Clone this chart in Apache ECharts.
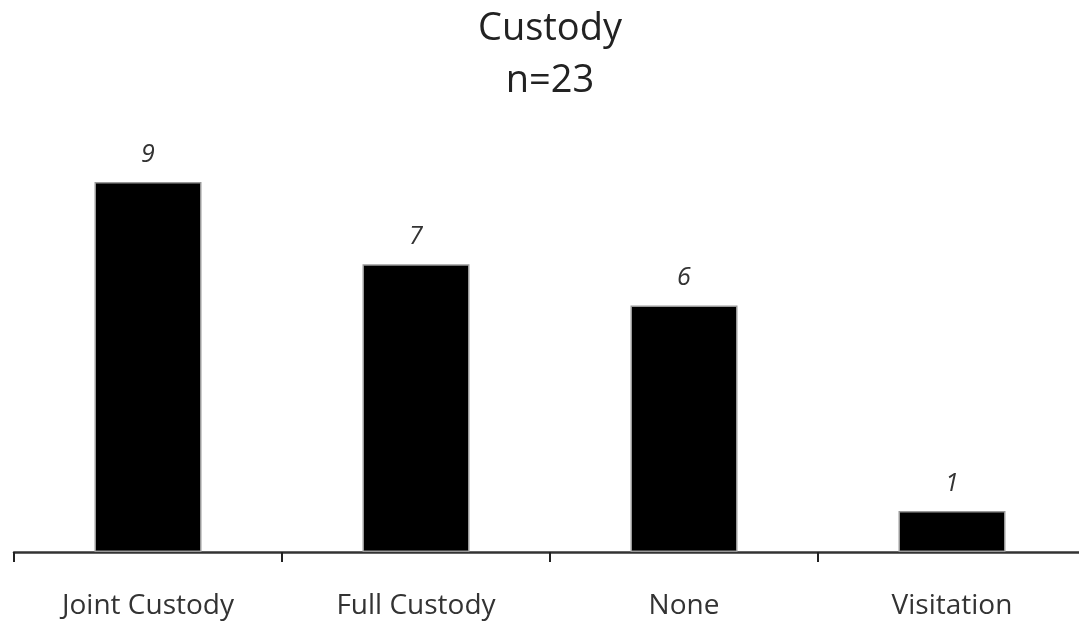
<!DOCTYPE html>
<html>
<head>
<meta charset="utf-8">
<script src="https://cdn.jsdelivr.net/npm/echarts@6/dist/echarts.min.js"></script>
<style>
  html, body { margin: 0; padding: 0; background: #fff; overflow: hidden; }
  /* plot runs a little past the right edge, like the original */
  #chart { width: 1086px; height: 622px; }
</style>
</head>
<body>
<div id="chart"></div>
<script>
const categories = ['Joint Custody', 'Full Custody', 'None', 'Visitation'];
const counts = [9, 7, 6, 1];

const chart = echarts.init(document.getElementById('chart'));

chart.setOption({
  animation: false,
  title: {
    text: 'Custody\nn=23',
    left: 545,
    top: -2,
    textAlign: 'center',
    textStyle: {
      fontFamily: 'Open Sans',
      fontSize: 38,
      fontWeight: 'normal',
      color: '#222',
      lineHeight: 52
    }
  },
  grid: { left: 14, right: 0, top: 141, height: 411 },
  xAxis: {
    type: 'category',
    data: categories,
    axisLine: { lineStyle: { color: '#333', width: 2.5 } },
    axisTick: { show: true, length: 10, lineStyle: { color: '#222', width: 2 } },
    axisLabel: {
      margin: 40,
      fontFamily: 'Open Sans',
      fontSize: 28,
      color: '#333'
    }
  },
  yAxis: {
    type: 'value',
    min: 0,
    max: 10,
    show: false,
    splitLine: { show: false }
  },
  series: [{
    type: 'bar',
    data: counts,
    barWidth: 107,
    itemStyle: { color: '#000', borderColor: '#999', borderWidth: 1.5 },
    label: {
      show: true,
      position: 'top',
      distance: 15,
      fontFamily: 'Open Sans',
      fontStyle: 'italic',
      fontSize: 25,
      color: '#333'
    }
  }]
});
</script>
</body>
</html>
